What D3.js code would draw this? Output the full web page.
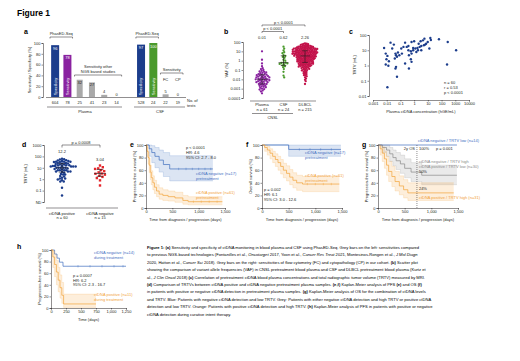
<!DOCTYPE html>
<html>
<head>
<meta charset="utf-8">
<script src="https://cdn.jsdelivr.net/npm/d3@7"></script>
<style>
body { margin: 0; background: #fff; }
svg { display: block; font-family: "Liberation Sans", Arial, sans-serif; }
</style>
</head>
<body>
<script>
const W = 520, H = 361;
const ink = '#231f20';

// a: sensitivity / specificity per test set
const aTests = ['604', '78', '25', '41', '23', '14', '528', '24', '22', '19'];
const aValues = [96, 78, 32, 27, 4, 0, 97, 100, 5, 0];
const aKinds = ['Specificity', 'Sensitivity', 'NGS', 'NGS', 'NGS', 'NGS', 'Specificity', 'Sensitivity', 'FC', 'CP'];
const aGroups = ['Plasma', 'CSF'];

// b: VAF (%) per patient, stored as log10
const bGroups = ['Plasma', 'CSF', 'DLBCL'];
const bCounts = ['n = 61', 'n = 24', 'n = 215'];
const bMedianLabels = ['0.01', '0.62', '2.26'];
const bPlasmaLog = [1.0, 0.1, -0.3, -0.6, -0.8, -0.9, -1.0, -1.1, -1.15, -1.2, -1.25, -1.3, -1.35, -1.4, -1.45,
  -1.5, -1.5, -1.55, -1.6, -1.6, -1.65, -1.7, -1.7, -1.75, -1.8, -1.8, -1.85, -1.9, -1.9, -1.95, -2.0, -2.0,
  -2.0, -2.05, -2.1, -2.1, -2.15, -2.2, -2.2, -2.25, -2.3, -2.3, -2.35, -2.4, -2.45, -2.5, -2.5, -2.55, -2.6,
  -2.65, -2.7, -2.75, -2.8, -2.85, -2.9, -3.0, -3.05, -3.1, -3.2, -3.3, -3.5];
const bCsfLog = [1.5, 1.3, 1.1, 0.9, 0.8, 0.6, 0.5, 0.4, 0.3, 0.1, 0.0, -0.2, -0.22, -0.25, -0.3, -0.35, -0.4,
  -0.5, -0.6, -0.7, -0.9, -1.2, -1.6, -1.8];
const bDlbclLog = [1.86, 1.83, 1.79, 1.77, 1.74, 1.72, 1.69, 1.66,
  1.62, 1.6, 1.59, 1.57, 1.55, 1.54, 1.52, 1.51, 1.5, 1.48, 1.47, 1.45, 1.44, 1.42, 1.41, 1.39, 1.38,
  1.37, 1.36, 1.35, 1.34, 1.33, 1.31, 1.3, 1.3, 1.29, 1.28, 1.27, 1.26, 1.25, 1.24, 1.23, 1.22, 1.21, 1.2, 1.19,
  1.18, 1.17, 1.16, 1.15, 1.13,
  1.12, 1.11, 1.1, 1.08, 1.07, 1.06, 1.05, 1.04, 1.03, 1.02, 1.01, 1.0, 0.99, 0.98, 0.97, 0.96, 0.95, 0.94, 0.93,
  0.92, 0.91, 0.9, 0.89, 0.88,
  0.87, 0.86, 0.85, 0.84, 0.83, 0.82, 0.81, 0.8, 0.79, 0.78, 0.77, 0.76, 0.75, 0.74, 0.73, 0.72, 0.71, 0.7, 0.69,
  0.68, 0.67, 0.66, 0.65, 0.63,
  0.62, 0.61, 0.6, 0.58, 0.57, 0.56, 0.55, 0.54, 0.53, 0.52, 0.51, 0.5, 0.49, 0.48, 0.46, 0.45, 0.44, 0.43, 0.42,
  0.41, 0.39, 0.38,
  0.37, 0.36, 0.35, 0.33, 0.32, 0.31, 0.3, 0.28, 0.27, 0.26, 0.25, 0.24, 0.22, 0.21, 0.2, 0.18, 0.17, 0.16, 0.14, 0.13,
  0.12, 0.1, 0.09, 0.08, 0.06, 0.05, 0.03, 0.02, 0.0, -0.01, -0.03, -0.04, -0.06, -0.07, -0.09, -0.1, -0.11, -0.12,
  -0.13, -0.15, -0.17, -0.18, -0.2, -0.22, -0.23, -0.25, -0.26, -0.28, -0.3, -0.31, -0.33, -0.34, -0.36, -0.37,
  -0.39, -0.41, -0.43, -0.45, -0.47, -0.49, -0.5, -0.52, -0.54, -0.56, -0.58, -0.6, -0.62,
  -0.64, -0.67, -0.7, -0.73, -0.76, -0.79, -0.82, -0.86,
  -0.89, -0.93, -0.97, -1.01, -1.05, -1.1,
  -1.15, -1.2, -1.26, -1.31, -1.36, -1.42, -1.48, -1.55, -1.6, -1.68, -1.8, -1.92, -2.05, -2.2, -2.5];
const bTicks = [100, 10, 1, 0.1, 0.01, 0.001, 0.0001];

// c: plasma ctDNA (hGE/mL) vs TRTV (mL), both log10
const cCtdnaLog = [-2.19, -1.72, -1.48, -2.07, -1.95, -2.02, -1.84, -2.07, -1.88, -1.36, -1.32, -1.18, -1.25, -1.41,
  -1.32, -1.36, -1.25, -1.95, -0.66, -0.78, -0.94, -0.54, -0.42, -0.19, 0, 0.09, -0.07, -0.24, 0.16, 0.28, 0.4, 0.52,
  0.47, 0.64, 0.75, 0.8, 0.87, 0.99, 1.18, 1.22, 1.11, -0.42, -0.38, -0.24, -0.19, -0.66, -0.38, 1.81, 2.45, 3.06,
  2.4, -0.07, 0.24, -0.19, -0.89, -1.08, -1.6, 0.52, 0.71, 0.33];
const cTrtvLog = [1.15, 1.5, 1.37, 0.78, 0.63, 0.41, 0.28, 0.07, -0.02, 0.78, 0.67, 0.85, 0.57, 0.46, -0.09, -0.2,
  -0.74, -1.43, 1.5, 1.22, 1.11, 1.22, 1.28, 1.54, 1.59, 1.11, 1.0, 0.93, 0.89, 1.0, 1.22, 1.28, 1.59, 1.65, 1.76,
  1.37, 1.43, 1.54, 1.8, 1.67, 1.11, 1.0, 0.67, 0.41, 0.24, 0.13, -0.2, 1.72, 1.54, 1.0, 0.07, 1.15, 1.15, 0.78,
  0.78, 0.67, 1.11, 1.0, 1.33, 1.43];
const cXTicks = [0.001, 0.01, 0.1, 1, 10, 100, 1000, 10000];
const cYTicks = [0.01, 0.1, 1, 10, 100];
const cStats = ['n = 60', 'r = 0.53', 'p < 0.0001'];

// d: TRTV by ctDNA status (positive group = same 60 patients as c)
const dGroups = ['ctDNA positive', 'ctDNA negative'];
const dCounts = ['n = 60', 'n = 15'];
const dMedianLabels = ['12.2', '3.04'];
const dNegLog = [1.2, 1.05, 0.95, 0.9, 0.8, 0.7, 0.6, 0.5, 0.48, 0.4, 0.3, 0.2, 0.1, -0.1, -0.55];
const dTicks = [1000, 100, 10, 1, 0.1, 0.01];

// e: PFS by pretreatment ctDNA
const eNegTime = [0, 60, 110, 170, 250, 330, 450, 1270];
const eNegSurv = [100, 94, 88, 82, 76, 69, 62, 62];
const eNegHi = [100, 100, 99, 96, 92, 88, 83, 83];
const eNegLo = [100, 82, 72, 64, 57, 50, 43, 43];
const eNegCens = [620, 760, 880, 1000, 1120, 1230];
const ePosTime = [0, 20, 40, 60, 80, 100, 130, 160, 200, 250, 320, 420, 550, 700, 800, 1450];
const ePosSurv = [100, 90, 80, 68, 57, 48, 40, 33, 27, 22, 20, 18, 16, 12, 10, 10];
const ePosHi = [100, 96, 89, 79, 68, 59, 51, 44, 37, 32, 29, 27, 25, 20, 18, 18];
const ePosLo = [100, 82, 70, 56, 45, 37, 29, 23, 18, 14, 12, 11, 9, 6, 5, 5];
const ePosCens = [900, 1050, 1200, 1350];

// f: OS by pretreatment ctDNA
const fNegTime = [0, 500, 1480];
const fNegSurv = [100, 93, 93];
const fNegHi = [100, 100, 100];
const fNegLo = [100, 82, 82];
const fNegCens = [700, 900, 1100, 1300];
const fPosTime = [0, 50, 100, 150, 200, 250, 300, 350, 400, 460, 520, 580, 650, 760, 1450];
const fPosSurv = [100, 96, 92, 87, 82, 77, 72, 66, 60, 55, 49, 44, 40, 38, 38];
const fPosHi = [100, 100, 98, 94, 90, 86, 82, 77, 71, 67, 61, 56, 52, 50, 50];
const fPosLo = [100, 90, 84, 78, 72, 66, 60, 54, 48, 43, 37, 32, 28, 26, 26];
const fPosCens = [850, 1000, 1150, 1300];

// g: combination of ctDNA and TRTV
const gBlueTime = [0, 1480];
const gBlueSurv = [100, 100];
const gGreyTime = [0, 80, 160, 220, 280, 340, 420, 500, 620, 820, 1480];
const gGreySurv = [100, 96, 92, 86, 80, 75, 70, 63, 57, 52, 52];
const gGreyHi = [100, 100, 100, 96, 92, 88, 84, 78, 72, 68, 68];
const gGreyLo = [100, 88, 82, 74, 67, 61, 55, 48, 42, 37, 37];
const gOrangeTime = [0, 40, 80, 120, 160, 200, 260, 320, 400, 480, 560, 1420];
const gOrangeSurv = [100, 94, 87, 78, 68, 58, 50, 42, 35, 29, 24, 24];
const gOrangeHi = [100, 100, 97, 90, 82, 74, 66, 58, 51, 45, 40, 40];
const gOrangeLo = [100, 84, 74, 63, 52, 42, 34, 27, 21, 16, 12, 12];

// h: PFS by ctDNA during treatment
const hNegTime = [0, 60, 100, 140, 200, 1250];
const hNegSurv = [100, 93, 86, 79, 72, 72];
const hNegCens = [450, 650, 850, 1050, 1200];
const hPosTime = [0, 30, 60, 90, 120, 150, 180, 210, 750];
const hPosSurv = [100, 88, 75, 62, 48, 35, 22, 7, 7];
const hPosHi = [100, 98, 92, 82, 70, 57, 44, 24, 24];
const hPosLo = [100, 70, 54, 40, 28, 17, 8, 1, 1];

const captionLines = [
  '**Figure 1: (a)** Sensitivity and specificity of ctDNA monitoring in blood plasma and CSF using PhasED-Seq. Grey bars on the left: sensitivities compared',
  'to previous NGS-based technologies (Fontanilles et al., _Oncotarget_ 2017, Yoon et al., _Cancer Res Treat_ 2021, Montesinos-Rongen et al., _J Mol Diagn_',
  '2020, Hatton et al., _Cancer Sci_ 2018). Grey bars on the right: sensitivities of flow cytometry (FC) and cytopathology (CP) in our cohort. **(b)** Scatter plot',
  'showing the comparison of variant allele frequencies (VAF) in CNSL pretreatment blood plasma and CSF and DLBCL pretreatment blood plasma (Kurtz et',
  'al., _J Clin Oncol_ 2018) **(c)** Correlation of pretreatment ctDNA blood plasma concentrations and total radiographic tumor volume (TRTV) measured by MRI.',
  '**(d)** Comparison of TRTVs between ctDNA positive and ctDNA negative pretreatment plasma samples. **(e,f)** Kaplan-Meier analysis of PFS **(e)** and OS **(f)**',
  'in patients with positive or negative ctDNA detection in pretreatment plasma samples. **(g)** Kaplan-Meier analysis of OS for the combination of ctDNA levels',
  'and TRTV. Blue: Patients with negative ctDNA detection and low TRTV. Grey: Patients with either negative ctDNA detection and high TRTV or positive ctDNA',
  'detection and low TRTV. Orange: Patients with positive ctDNA detection and high TRTV. **(h)** Kaplan-Meier analysis of PFS in patients with positive or negative',
  'ctDNA detection during curative intent therapy.'
];

const navy = '#1c3d8c', purple = '#8a22a0', green = '#4a9a2c', crimson = '#c3134b', red = '#e5262b';
const kmBlue = '#3f6fbf', kmOrange = '#f2a33a', kmGrey = '#8a8a8a';

const svg = d3.select('body').append('svg')
  .attr('width', W)
  .attr('height', H);

svg.append('rect').attr('width', W).attr('height', H).attr('fill', '#fff');

function txt(x, y, s, o = {}) {
  return svg.append('text')
    .attr('x', x).attr('y', y)
    .attr('font-size', o.size || 4)
    .attr('fill', o.fill || ink)
    .attr('text-anchor', o.anchor || 'start')
    .attr('font-weight', o.weight || null)
    .text(s);
}

function vtxt(x, y, s, o = {}) {
  return svg.append('text')
    .attr('transform', `translate(${x},${y}) rotate(-90)`)
    .attr('font-size', o.size || 4)
    .attr('fill', o.fill || ink)
    .attr('text-anchor', o.anchor || 'middle')
    .text(s);
}

function axis(gen, tx, ty) {
  const g = svg.append('g')
    .attr('transform', `translate(${tx},${ty})`)
    .call(gen)
    .attr('font-size', 4)
    .attr('font-family', null);
  g.select('.domain').attr('stroke', ink).attr('stroke-width', 0.5);
  g.selectAll('.tick line').attr('stroke', ink).attr('stroke-width', 0.5);
  g.selectAll('.tick text').attr('fill', ink);
  return g;
}

function bracket(x1, x2, y, drop) {
  svg.append('path')
    .attr('d', `M${x1},${y + drop}V${y}H${x2}V${y + drop}`)
    .attr('fill', 'none').attr('stroke', ink).attr('stroke-width', 0.5);
}

function hline(x1, x2, y) {
  svg.append('line').attr('x1', x1).attr('x2', x2).attr('y1', y).attr('y2', y)
    .attr('stroke', ink).attr('stroke-width', 0.5);
}

function swarm(vals, y, cx, d) {
  const pts = vals.map(v => ({ v, y: y(v) })).sort((a, b) => a.y - b.y);
  const placed = [];
  pts.forEach(p => {
    for (let k = 0; k < 600; k++) {
      const x = cx + (k % 2 ? 1 : -1) * Math.ceil(k / 2) * 0.35;
      if (placed.every(q => (q.x - x) ** 2 + (q.y - p.y) ** 2 >= d * d)) { p.x = x; break; }
    }
    placed.push(p);
  });
  return placed;
}

function medianBar(vals, y, cx, half) {
  const s = vals.slice().sort(d3.ascending);
  const q1 = d3.quantile(s, 0.25), md = d3.quantile(s, 0.5), q3 = d3.quantile(s, 0.75);
  const g = svg.append('g').attr('stroke', ink).attr('stroke-width', 0.6);
  g.append('line').attr('x1', cx - half).attr('x2', cx + half).attr('y1', y(md)).attr('y2', y(md));
  g.append('line').attr('x1', cx).attr('x2', cx).attr('y1', y(q1)).attr('y2', y(q3));
  [q1, q3].forEach(q => g.append('line').attr('x1', cx - half * 0.55).attr('x2', cx + half * 0.55)
    .attr('y1', y(q)).attr('y2', y(q)));
}

function km(x, y, times, surv, color, hi, lo, cens) {
  const pts = times.map((t, i) => ({ t, s: surv[i], hi: hi ? hi[i] : 0, lo: lo ? lo[i] : 0 }));
  if (hi) {
    svg.append('path').datum(pts)
      .attr('d', d3.area().curve(d3.curveStepAfter).x(d => x(d.t)).y0(d => y(d.lo)).y1(d => y(d.hi)))
      .attr('fill', color).attr('fill-opacity', 0.18);
    [d => d.hi, d => d.lo].forEach(acc => svg.append('path').datum(pts)
      .attr('d', d3.line().curve(d3.curveStepAfter).x(d => x(d.t)).y(d => y(acc(d))))
      .attr('fill', 'none').attr('stroke', color).attr('stroke-opacity', 0.45).attr('stroke-width', 0.4));
  }
  svg.append('path').datum(pts)
    .attr('d', d3.line().curve(d3.curveStepAfter).x(d => x(d.t)).y(d => y(d.s)))
    .attr('fill', 'none').attr('stroke', color).attr('stroke-width', 0.7);
  if (cens) {
    cens.forEach(c => {
      const s = surv[d3.bisectRight(times, c) - 1];
      svg.append('line').attr('x1', x(c)).attr('x2', x(c)).attr('y1', y(s) - 1.2).attr('y2', y(s) + 1.2)
        .attr('stroke', color).attr('stroke-width', 0.4);
    });
  }
}

function kmAxes(x, y, yLabel, xLabel) {
  axis(d3.axisLeft(y).tickValues([0, 20, 40, 60, 80, 100]).tickSize(1.5).tickPadding(1), x.range()[0], 0);
  axis(d3.axisBottom(x).tickValues(x.domain()[1] === 1250 ? [0, 250, 500, 750, 1000, 1250] : [0, 500, 1000, 1500])
    .tickSize(1.5).tickPadding(1), 0, y.range()[0]);
  vtxt(x.range()[0] - 10, (y.range()[0] + y.range()[1]) / 2, yLabel);
  txt((x.range()[0] + x.range()[1]) / 2, y.range()[0] + 13, xLabel, { anchor: 'middle' });
}

// ---- title
txt(17, 16, 'Figure 1', { size: 8.5, weight: 'bold', fill: '#000' });

// ---- a
txt(24, 34, 'a', { size: 7, weight: 'bold', fill: '#000' });
const aSlots = [...aTests.slice(0, 6), 'gap', ...aTests.slice(6)];
const xA = d3.scaleBand().domain(aSlots).range([49, 184]);
const yA = d3.scaleLinear().domain([0, 100]).range([97, 43]);
axis(d3.axisLeft(yA).tickValues([0, 20, 40, 60, 80, 100]).tickSize(1.5).tickPadding(1), 43, 0);
vtxt(31, 70, 'Sensitivity / Specificity (%)', { size: 4 });

aTests.forEach((t, i) => {
  const k = aKinds[i], v = aValues[i];
  const cx = xA(t) + xA.bandwidth() / 2;
  const big = k === 'Specificity' || k === 'Sensitivity';
  const w = big ? 8 : 6;
  const col = k === 'Specificity' ? navy : k === 'Sensitivity' ? (i < 6 ? purple : green) : '#a9a9a9';
  svg.append('rect').attr('x', cx - w / 2).attr('y', yA(v)).attr('width', w).attr('height', yA(0) - yA(v))
    .attr('fill', col);
  if (big) {
    txt(cx, yA(v) + 4.5, v, { anchor: 'middle', fill: '#fff', size: 4 });
    svg.append('text').attr('transform', `translate(${cx + 1.4},${yA(0) - 2}) rotate(-90)`)
      .attr('font-size', 3.8).attr('fill', '#fff').text(k);
  } else if (v > 15) {
    txt(cx, yA(v) + 4, v, { anchor: 'middle', size: 4 });
  } else {
    txt(cx, yA(v) - 1.5, v, { anchor: 'middle', size: 4 });
  }
  txt(cx, 104, t, { anchor: 'middle' });
});
hline(46, 186, 97.5);
hline(47, 122, 107);
hline(134, 185, 107);
txt(85, 112.5, aGroups[0], { anchor: 'middle' });
txt(160, 112.5, aGroups[1], { anchor: 'middle' });
txt(187, 102, 'No. of');
txt(187, 106.5, 'tests');
const aMid = (a, b) => (xA(a) + xA(b) + xA.bandwidth()) / 2;
txt(aMid('604', '78'), 35, 'PhasED-Seq', { anchor: 'middle' });
bracket(xA('604') + 1, xA('78') + xA.bandwidth() - 1, 37, 1.5);
txt(aMid('528', '24'), 35, 'PhasED-Seq', { anchor: 'middle' });
bracket(xA('528') + 1, xA('24') + xA.bandwidth() - 1, 37, 1.5);
txt(aMid('25', '14'), 68, 'Sensitivity other', { anchor: 'middle' });
txt(aMid('25', '14'), 72.5, 'NGS based studies', { anchor: 'middle' });
bracket(xA('25') + 1, xA('14') + xA.bandwidth() - 1, 75, 1.5);
txt(aMid('22', '19'), 71, 'Sensitivity', { anchor: 'middle' });
bracket(xA('22') + 1, xA('19') + xA.bandwidth() - 1, 73, 1.5);
txt(xA('22') + xA.bandwidth() / 2, 81, 'FC', { anchor: 'middle' });
txt(xA('19') + xA.bandwidth() / 2, 81, 'CP', { anchor: 'middle' });

// ---- b
txt(224, 34, 'b', { size: 7, weight: 'bold', fill: '#000' });
const xB = d3.scalePoint().domain(bGroups).range([262, 305]);
const yB = d3.scaleLog().domain([0.0001, 100]).range([98, 42]);
axis(d3.axisLeft(yB).tickValues(bTicks).tickFormat(d => String(d)).tickSize(1.5).tickPadding(1), 243, 0);
vtxt(228, 70, 'VAF (%)');
const bCols = [purple, green, crimson];
[bPlasmaLog, bCsfLog, bDlbclLog].forEach((arr, gi) => {
  const vals = arr.map(v => 10 ** v);
  const pts = swarm(vals, yB, xB(bGroups[gi]), gi === 2 ? 1.45 : 1.9);
  svg.append('g').selectAll('circle').data(pts).join('circle')
    .attr('cx', d => d.x).attr('cy', d => d.y).attr('r', 1.15).attr('fill', bCols[gi]);
  medianBar(vals, yB, xB(bGroups[gi]), 5);
  txt(xB(bGroups[gi]), 38.5, bMedianLabels[gi], { anchor: 'middle' });
  txt(xB(bGroups[gi]), 106, bGroups[gi], { anchor: 'middle' });
  txt(xB(bGroups[gi]), 110.5, bCounts[gi], { anchor: 'middle' });
});
hline(250, 316, 101);
hline(252, 293, 113.5);
txt((xB('Plasma') + xB('CSF')) / 2, 118.5, 'CNSL', { anchor: 'middle' });
txt((xB('Plasma') + xB('DLBCL')) / 2, 23.5, 'p < 0.0001', { anchor: 'middle' });
bracket(xB('Plasma'), xB('DLBCL'), 25, 1.5);
txt((xB('Plasma') + xB('CSF')) / 2, 30, 'p < 0.0001', { anchor: 'middle' });
bracket(xB('Plasma'), xB('CSF'), 31.5, 1.5);

// ---- c
txt(349, 34, 'c', { size: 7, weight: 'bold', fill: '#000' });
const xC = d3.scaleLog().domain([0.001, 10000]).range([373, 469]);
const yC = d3.scaleLog().domain([0.01, 100]).range([96, 35]);
axis(d3.axisLeft(yC).tickValues(cYTicks).tickFormat(d => String(d)).tickSize(1.5).tickPadding(1), 369, 0);
axis(d3.axisBottom(xC).tickValues(cXTicks).tickFormat(d => String(d)).tickSize(1.5).tickPadding(1), 0, 100);
vtxt(356, 65, 'TRTV (mL)');
txt(421, 112.5, 'Plasma ctDNA concentration (hGE/mL)', { anchor: 'middle' });
svg.append('g').selectAll('circle').data(cCtdnaLog).join('circle')
  .attr('cx', d => xC(10 ** d)).attr('cy', (d, i) => yC(10 ** cTrtvLog[i])).attr('r', 1.2).attr('fill', navy);
cStats.forEach((s, i) => txt(444, 84 + i * 5, s));

// ---- d
txt(22, 147, 'd', { size: 7, weight: 'bold', fill: '#000' });
const xD = d3.scalePoint().domain(dGroups).range([62, 100]);
const yD = d3.scaleLog().domain([0.01, 1000]).range([202, 145]);
axis(d3.axisLeft(yD).tickValues(dTicks).tickFormat(d => d === 0.01 ? 'ND' : String(d)).tickSize(1.5).tickPadding(1), 44, 0);
vtxt(27, 174, 'TRTV (mL)');
const dPos = cTrtvLog.map(v => 10 ** v), dNeg = dNegLog.map(v => 10 ** v);
const posPts = swarm(dPos, yD, xD(dGroups[0]), 2.1);
svg.append('g').selectAll('circle').data(posPts).join('circle')
  .attr('cx', d => d.x).attr('cy', d => d.y).attr('r', 1.25).attr('fill', navy);
const negPts = swarm(dNeg, yD, xD(dGroups[1]), 3.2);
svg.append('g').selectAll('rect').data(negPts).join('rect')
  .attr('x', d => d.x - 1.2).attr('y', d => d.y - 1.2).attr('width', 2.4).attr('height', 2.4).attr('fill', red);
medianBar(dPos, yD, xD(dGroups[0]), 6);
medianBar(dNeg, yD, xD(dGroups[1]), 6);
dGroups.forEach((g, i) => {
  txt(xD(g), i ? 161 : 153, dMedianLabels[i], { anchor: 'middle' });
  txt(xD(g), 214.5, g, { anchor: 'middle' });
  txt(xD(g), 219, dCounts[i], { anchor: 'middle' });
});
hline(46, 118, 208);
txt(81, 143.5, 'p = 0.0008', { anchor: 'middle' });
bracket(xD(dGroups[0]), xD(dGroups[1]), 145, 2.5);

// ---- e
txt(130, 147, 'e', { size: 7, weight: 'bold', fill: '#000' });
const xE = d3.scaleLinear().domain([0, 1500]).range([146, 225]);
const yE = d3.scaleLinear().domain([0, 100]).range([208, 145]);
km(xE, yE, eNegTime, eNegSurv, kmBlue, eNegHi, eNegLo, eNegCens);
km(xE, yE, ePosTime, ePosSurv, kmOrange, ePosHi, ePosLo, ePosCens);
kmAxes(xE, yE, 'Progression-free survival (%)', 'Time from diagnosis / progression (days)');
['p < 0.0001', 'HR: 4.6', '95% CI: 2.7 - 8.0'].forEach((s, i) => txt(186, 149 + i * 5, s));
txt(196, 175, 'ctDNA negative (n=17)', { fill: kmBlue });
txt(196, 179.5, 'pretreatment', { fill: kmBlue });
txt(196, 194, 'ctDNA positive (n=61)', { fill: kmOrange });
txt(196, 198.5, 'pretreatment', { fill: kmOrange });

// ---- f
txt(246, 147, 'f', { size: 7, weight: 'bold', fill: '#000' });
const xF = d3.scaleLinear().domain([0, 1500]).range([262, 342]);
const yF = d3.scaleLinear().domain([0, 100]).range([208, 145]);
km(xF, yF, fNegTime, fNegSurv, kmBlue, fNegHi, fNegLo, fNegCens);
km(xF, yF, fPosTime, fPosSurv, kmOrange, fPosHi, fPosLo, fPosCens);
kmAxes(xF, yF, 'Overall survival (%)', 'Time from diagnosis / progression (days)');
['p = 0.002', 'HR: 6.1', '95% CI: 3.0 - 12.6'].forEach((s, i) => txt(264, 191 + i * 5, s));
txt(305, 154, 'ctDNA negative (n=17)', { fill: kmBlue });
txt(305, 158.5, 'pretreatment', { fill: kmBlue });
txt(305, 177, 'ctDNA positive (n=61)', { fill: kmOrange });
txt(305, 181.5, 'pretreatment', { fill: kmOrange });

// ---- g
txt(362, 147, 'g', { size: 7, weight: 'bold', fill: '#000' });
const xG = d3.scaleLinear().domain([0, 1500]).range([378, 458]);
const yG = d3.scaleLinear().domain([0, 100]).range([208, 145]);
km(xG, yG, gGreyTime, gGreySurv, kmGrey, gGreyHi, gGreyLo);
km(xG, yG, gOrangeTime, gOrangeSurv, kmOrange, gOrangeHi, gOrangeLo);
km(xG, yG, gBlueTime, gBlueSurv, kmBlue);
svg.append('line').attr('x1', xG(730)).attr('x2', xG(730)).attr('y1', yG(100)).attr('y2', yG(0))
  .attr('stroke', ink).attr('stroke-width', 0.5).attr('stroke-dasharray', '1,1');
kmAxes(xG, yG, 'Progression-free survival (%)', 'Time from diagnosis / progression (days)');
txt(xG(730) + 1, 142, 'ctDNA negative / TRTV low (n=14)', { fill: kmBlue });
txt(xG(730) - 2, 150, '2y OS', { anchor: 'end' });
txt(xG(730) + 2, 150, '100%');
txt(436, 150, 'p = 0.001');
txt(xG(730) + 2, 163, 'ctDNA negative / TRTV high', { fill: kmGrey });
txt(xG(730) + 2, 167.5, 'ctDNA positive / TRTV low (n=30)', { fill: kmGrey });
txt(xG(730) + 2, 173, '50%');
txt(xG(730) + 2, 189.5, '24%');
txt(xG(730) + 2, 199, 'ctDNA positive / TRTV high (n=31)', { fill: kmOrange });

// ---- h
txt(17, 249, 'h', { size: 7, weight: 'bold', fill: '#000' });
const xH = d3.scaleLinear().domain([0, 1250]).range([51, 126]);
const yH = d3.scaleLinear().domain([0, 100]).range([308, 250]);
km(xH, yH, hNegTime, hNegSurv, kmBlue, null, null, hNegCens);
km(xH, yH, hPosTime, hPosSurv, kmOrange, hPosHi, hPosLo);
kmAxes(xH, yH, 'Progression-free survival (%)', 'Time (days)');
['p = 0.0007', 'HR: 6.2', '95% CI: 2.3 - 16.7'].forEach((s, i) => txt(73, 277 + i * 4.5, s));
txt(94, 254, 'ctDNA negative (n=14)', { fill: kmBlue });
txt(94, 258.5, 'during treatment', { fill: kmBlue });
txt(94, 296, 'ctDNA positive (n=11)', { fill: kmOrange });
txt(94, 300.5, 'during treatment', { fill: kmOrange });

// ---- caption
captionLines.forEach((line, i) => {
  const t = svg.append('text').attr('x', 147).attr('y', 249 + i * 7.4).attr('font-size', 4.1).attr('fill', '#000');
  line.split(/(\*\*[^*]+\*\*|_[^_]+_)/).filter(s => s).forEach(seg => {
    const sp = t.append('tspan');
    if (seg.startsWith('**')) sp.attr('font-weight', 'bold').text(seg.slice(2, -2));
    else if (seg.startsWith('_')) sp.attr('font-style', 'italic').text(seg.slice(1, -1));
    else sp.text(seg);
  });
});
</script>
</body>
</html>
